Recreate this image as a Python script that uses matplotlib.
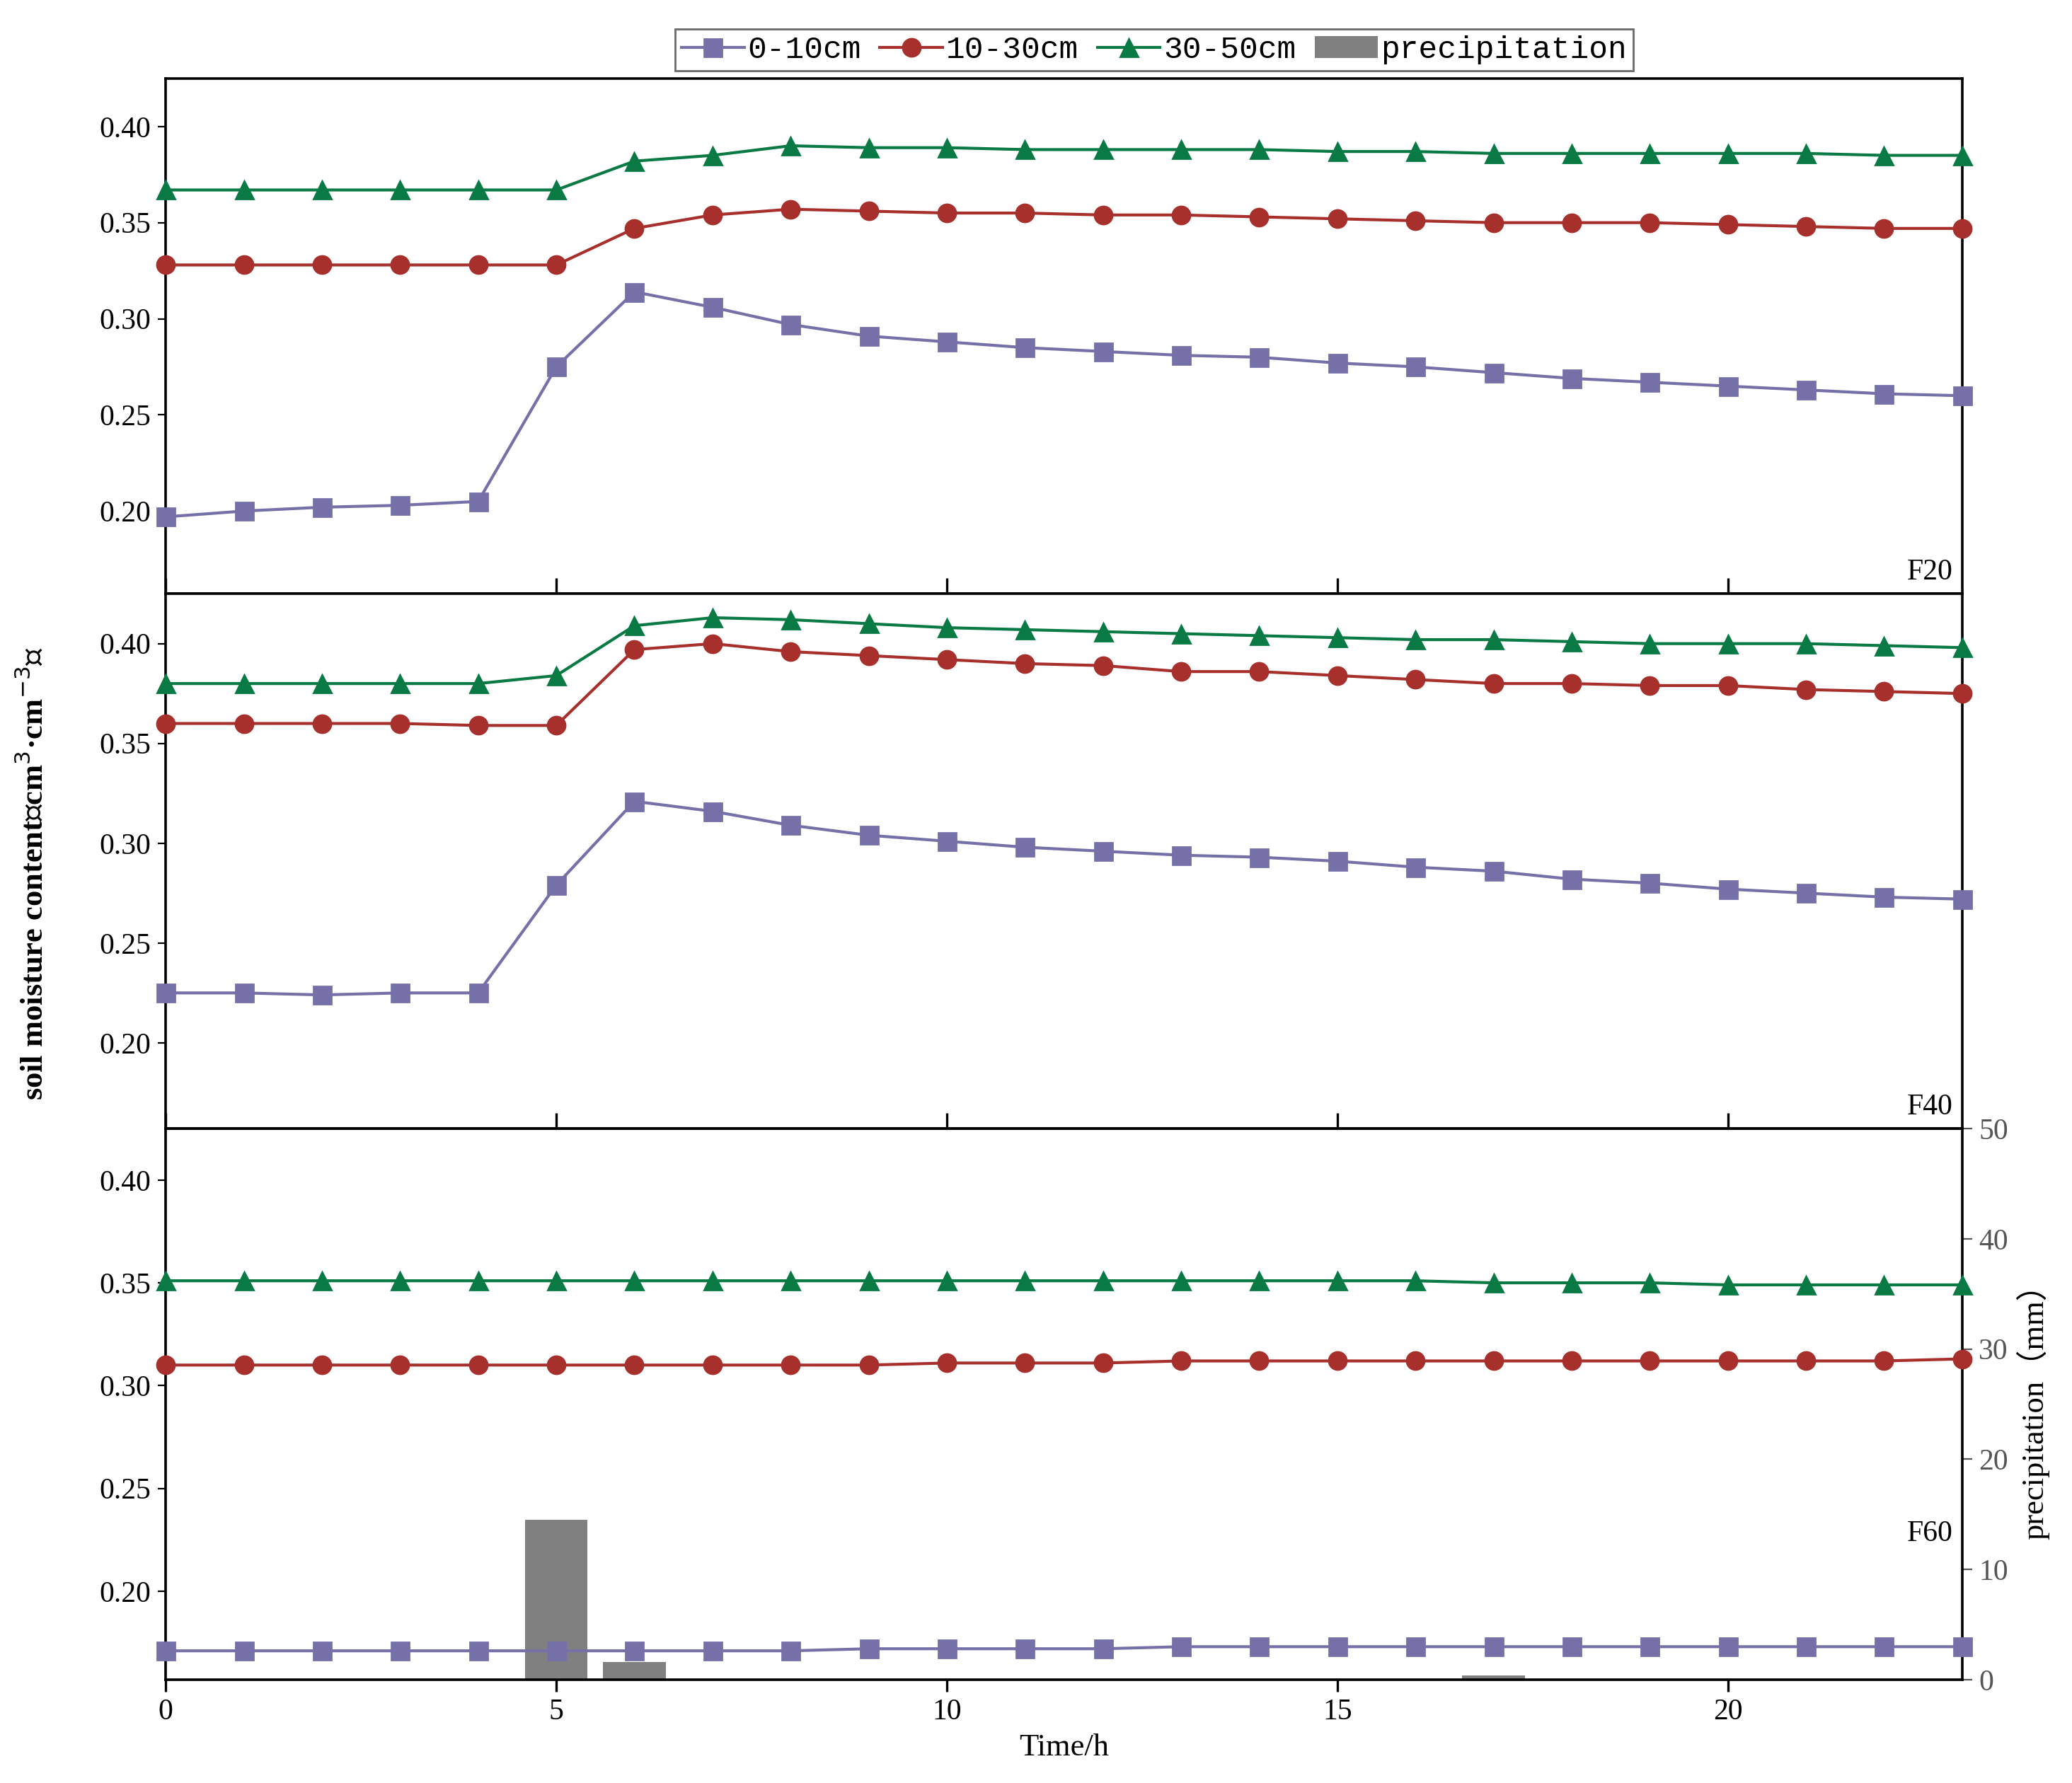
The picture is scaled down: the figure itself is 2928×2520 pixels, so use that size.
import numpy as np
import matplotlib
matplotlib.use('Agg')
from matplotlib import pyplot as plt

hours = np.arange(24)

# F20
f20_0_10 = [0.197, 0.200, 0.202, 0.203, 0.205, 0.275, 0.314, 0.306, 0.297, 0.291, 0.288, 0.285,
            0.283, 0.281, 0.280, 0.277, 0.275, 0.272, 0.269, 0.267, 0.265, 0.263, 0.261, 0.260]
f20_10_30 = [0.328, 0.328, 0.328, 0.328, 0.328, 0.328, 0.347, 0.354, 0.357, 0.356, 0.355, 0.355,
             0.354, 0.354, 0.353, 0.352, 0.351, 0.350, 0.350, 0.350, 0.349, 0.348, 0.347, 0.347]
f20_30_50 = [0.367, 0.367, 0.367, 0.367, 0.367, 0.367, 0.382, 0.385, 0.390, 0.389, 0.389, 0.388,
             0.388, 0.388, 0.388, 0.387, 0.387, 0.386, 0.386, 0.386, 0.386, 0.386, 0.385, 0.385]
# F40
f40_0_10 = [0.225, 0.225, 0.224, 0.225, 0.225, 0.279, 0.321, 0.316, 0.309, 0.304, 0.301, 0.298,
            0.296, 0.294, 0.293, 0.291, 0.288, 0.286, 0.282, 0.280, 0.277, 0.275, 0.273, 0.272]
f40_10_30 = [0.360, 0.360, 0.360, 0.360, 0.359, 0.359, 0.397, 0.400, 0.396, 0.394, 0.392, 0.390,
             0.389, 0.386, 0.386, 0.384, 0.382, 0.380, 0.380, 0.379, 0.379, 0.377, 0.376, 0.375]
f40_30_50 = [0.380, 0.380, 0.380, 0.380, 0.380, 0.384, 0.409, 0.413, 0.412, 0.410, 0.408, 0.407,
             0.406, 0.405, 0.404, 0.403, 0.402, 0.402, 0.401, 0.400, 0.400, 0.400, 0.399, 0.398]
# F60
f60_0_10 = [0.171, 0.171, 0.171, 0.171, 0.171, 0.171, 0.171, 0.171, 0.171, 0.172, 0.172, 0.172,
            0.172, 0.173, 0.173, 0.173, 0.173, 0.173, 0.173, 0.173, 0.173, 0.173, 0.173, 0.173]
f60_10_30 = [0.310, 0.310, 0.310, 0.310, 0.310, 0.310, 0.310, 0.310, 0.310, 0.310, 0.311, 0.311,
             0.311, 0.312, 0.312, 0.312, 0.312, 0.312, 0.312, 0.312, 0.312, 0.312, 0.312, 0.313]
f60_30_50 = [0.351, 0.351, 0.351, 0.351, 0.351, 0.351, 0.351, 0.351, 0.351, 0.351, 0.351, 0.351,
             0.351, 0.351, 0.351, 0.351, 0.351, 0.350, 0.350, 0.350, 0.349, 0.349, 0.349, 0.349]

precip_hours = [5, 6, 17]
precip_mm = [14.5, 1.6, 0.4]

panel_names = ['F20', 'F40', 'F60']
panel_data = [(f20_0_10, f20_10_30, f20_30_50),
              (f40_0_10, f40_10_30, f40_30_50),
              (f60_0_10, f60_10_30, f60_30_50)]
series_labels = ['0-10cm', '10-30cm', '30-50cm']
colors = ['#7571a8', '#a8302c', '#0a7a45']
markers = ['s', 'o', '^']

plt.rcParams['font.family'] = ['Liberation Serif', 'Noto Sans CJK SC', 'DejaVu Sans']
plt.rcParams['font.size'] = 15

fig = plt.figure(figsize=(14.64, 12.6), dpi=200)
left, right = 0.080, 0.947
edges = [0.956, 0.667, 0.367, 0.058]
axes = []
for i in range(3):
    ax = fig.add_axes([left, edges[i + 1], right - left, edges[i] - edges[i + 1]])
    axes.append(ax)

handles = []
for ax, name, data in zip(axes, panel_names, panel_data):
    for vals, lab, c, m in zip(data, series_labels, colors, markers):
        h, = ax.plot(hours, vals, color=c, marker=m, markersize=9, lw=1.5, label=lab, clip_on=False, zorder=3)
        if name == 'F20':
            handles.append(h)
    ax.set_xlim(0, 23)
    ax.set_ylim(0.157, 0.425)
    ax.set_yticks([0.20, 0.25, 0.30, 0.35, 0.40])
    ax.set_yticklabels(['0.20', '0.25', '0.30', '0.35', '0.40'])
    ax.set_xticks([0, 5, 10, 15, 20])
    ax.tick_params(axis='x', direction='in', length=8, width=1.2)
    ax.tick_params(axis='y', direction='out', length=4)
    for sp in ax.spines.values():
        sp.set_linewidth(1.3)
    ax.text(0.995, 0.015 if name != 'F60' else 0.24, name, transform=ax.transAxes,
            ha='right', va='bottom', fontsize=15)
    if name != 'F60':
        ax.tick_params(axis='x', labelbottom=False)

ax3 = axes[2]
ax3.set_xlabel('Time/h', fontsize=16)
ax3.tick_params(axis='x', direction='out', length=6)
axp = ax3.twinx()
bars = axp.bar(precip_hours, precip_mm, width=0.8, color='#808080', label='precipitation', zorder=1)
axp.set_ylim(0, 50)
axp.set_yticks([0, 10, 20, 30, 40, 50])
axp.tick_params(axis='y', colors='#555555', length=5)
axp.spines['right'].set_color('#555555')
axp.set_ylabel('precipitation（mm）', fontsize=16, color='black')
ax3.set_zorder(axp.get_zorder() + 1)
ax3.patch.set_visible(False)
handles.append(bars)

fig.text(0.016, 0.51, 'soil moisture content（cm$^{3}$·cm$^{-3}$）', rotation=90,
         ha='center', va='center', fontsize=16, fontweight='bold')

fig.legend(handles, series_labels + ['precipitation'], loc='center', bbox_to_anchor=(0.557, 0.972),
           ncol=4, frameon=True, fancybox=False, edgecolor='#444444', handlelength=2.0,
           handletextpad=0.1, columnspacing=0.6, borderpad=0.2,
           prop={'family': 'Liberation Mono', 'size': 16})

fig.savefig('out.png', dpi=200)
